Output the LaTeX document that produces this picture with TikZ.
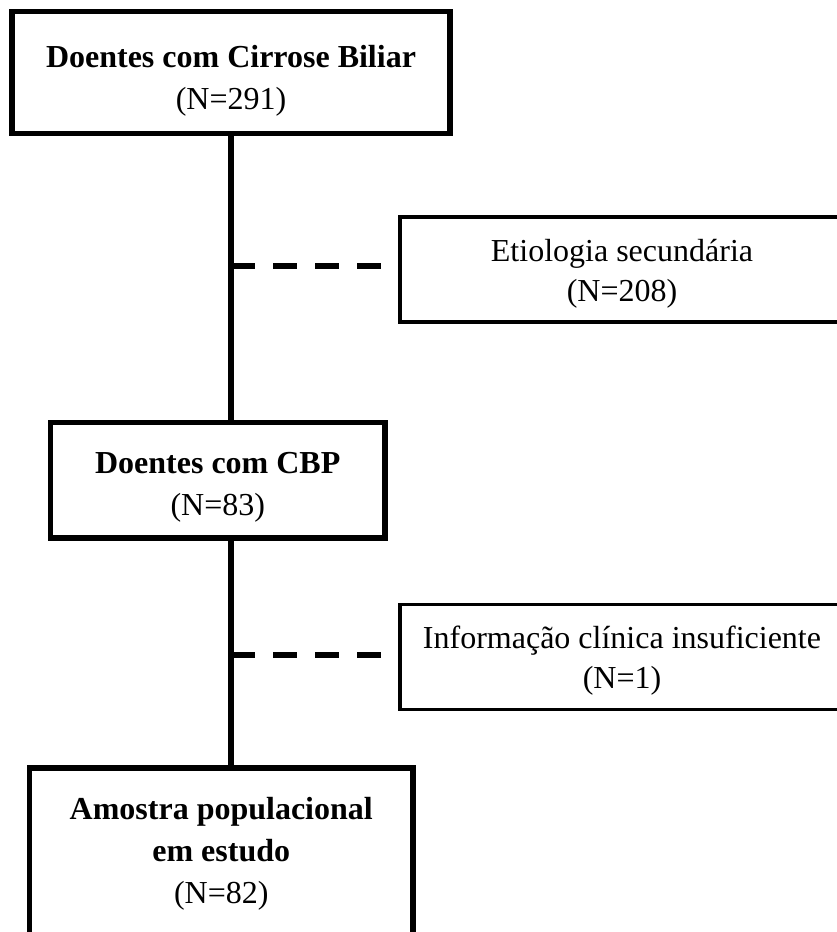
\documentclass[tikz,border=0pt]{standalone}
\usepackage{fontspec}
\setmainfont{Liberation Serif}
\begin{document}
\begin{tikzpicture}[x=1pt,y=-1pt,
  mainbox/.style={draw, line width=5.5pt, rectangle, inner sep=0pt, outer sep=0pt, fill=white},
  sidebox/.style={draw, line width=3.5pt, rectangle, inner sep=0pt, outer sep=0pt, fill=white},
  boldtxt/.style={align=center, inner sep=0pt, anchor=base, font={\fontsize{32}{42}\selectfont}},
  plaintxt/.style={align=center, inner sep=0pt, anchor=base, font={\fontsize{32}{40}\selectfont}},
  trunk/.style={line width=5.5pt},
  dashline/.style={line width=5.5pt, dash pattern=on 24pt off 18pt, shorten >=18.5pt}]
\useasboundingbox (0,0) rectangle (837,932);
\clip (0,0) rectangle (837,932);
\fill[white] (0,0) rectangle (837,932);

% boxes
\node[mainbox, minimum width=438pt, minimum height=122pt] (top) at (231,72.5) {};
\node[sidebox, minimum width=444pt, minimum height=105pt] (ex1) at (622,269.5) {};
\node[mainbox, minimum width=334.5pt, minimum height=115.5pt] (mid) at (217.75,480.25) {};
\node[sidebox, minimum width=444pt, minimum height=105pt] (ex2) at (622,657) {};
\node[mainbox, minimum width=383.5pt, minimum height=192pt] (bot) at (221.25,864) {};

% texts (anchor = baseline of the last line)
\node[boldtxt] (toptxt) at (231,109) {\textbf{Doentes com Cirrose Biliar}\\(N=291)};
\node[plaintxt] (ex1txt) at (622,301) {Etiologia secundária\\(N=208)};
\node[boldtxt] (midtxt) at (217.75,515) {\textbf{Doentes com CBP}\\(N=83)};
\node[plaintxt] (ex2txt) at (622,688.5) {Informação clínica insuficiente\\(N=1)};
\node[boldtxt] (bottxt) at (221.25,903) {\textbf{Amostra populacional}\\\textbf{em estudo}\\(N=82)};

% trunk
\draw[trunk] (top.south) -- (top.south |- mid.north);
\draw[trunk] (top.south |- mid.south) -- (top.south |- bot.north);

% exclusion branches
\coordinate (j1) at (231,266);
\coordinate (j2) at (231,655);
\draw[dashline] (j1) -- (j1 -| ex1.west);
\draw[dashline] (j2) -- (j2 -| ex2.west);
\end{tikzpicture}
\end{document}
